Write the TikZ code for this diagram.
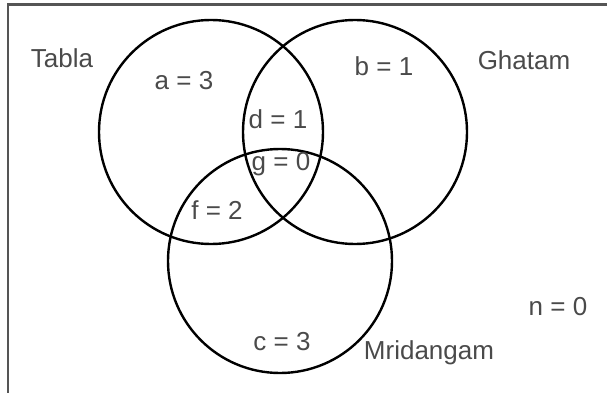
\documentclass[tikz,border=0pt]{standalone}
\usepackage{fontspec}
\setmainfont{Liberation Sans}
\usepackage{xcolor}
\usepackage{tikz}
\usetikzlibrary{positioning}

\definecolor{labelgray}{HTML}{4A4A4A}
\definecolor{framegray}{HTML}{555555}

\begin{document}
\begin{tikzpicture}[
    x=1pt, y=-1pt,
    every node/.style={font=\fontsize{26}{30}\selectfont, text=labelgray},
    set/.style={draw=black, line width=2.4pt, circle, minimum size=224pt, inner sep=0pt},
    count/.style={inner sep=0pt}
]
    \useasboundingbox (0,0) rectangle (607,393);

    % Frame
    \draw[framegray, line width=2.4pt] (8,393) -- (8,4.5) -- (607,4.5);

    % Sets
    \node[set] (T) at (211, 132) {};
    \node[set] (G) at (355, 132) {};
    \node[set] (M) at (280, 261) {};

    % Set names
    \node (tabla) at (62, 58) {Tabla};
    \node (ghatam) at (524, 60) {Ghatam};
    \node (mridangam) at (429, 353) {Mridangam};

    % Regions
    \node[count] (a) at (184, 81) {a = 3};
    \node[count] (b) at (384, 66) {b = 1};
    \node[count] (d) at (278, 119) {d = 1};
    \node[count] (g) at (281, 164) {g = 0};
    \node[count] (f) at (217, 210) {f = 2};
    \node[count] (c) at (282, 342) {c = 3};
    \node[count] (n) at (558, 307) {n = 0};

\end{tikzpicture}
\end{document}
